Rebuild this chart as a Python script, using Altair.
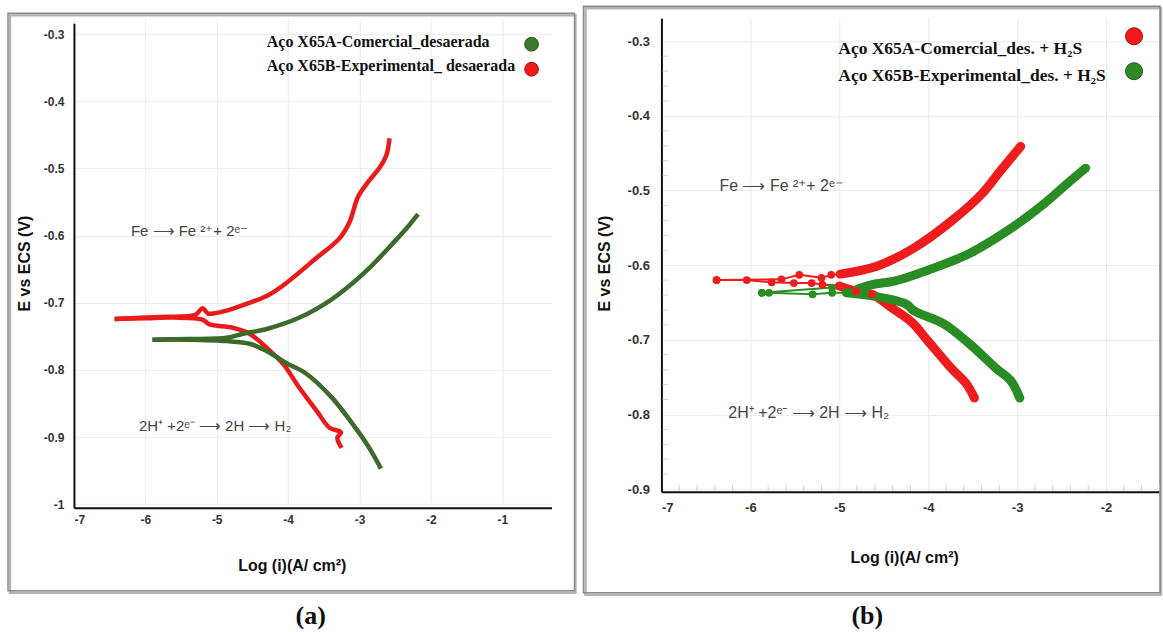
import altair as alt
import pandas as pd

# ---------------- Panel (a): desaerada ----------------
a_green_name = "Aço  X65A-Comercial_desaerada"
a_red_name = "Aço X65B-Experimental_ desaerada"

a_red_cat_logi = [-6.43, -6.0, -5.6, -5.20, -5.10, -4.78, -4.54, -4.30, -4.07, -3.84, -3.60, -3.42, -3.26, -3.31, -3.25]
a_red_cat_E = [-0.724, -0.723, -0.722, -0.725, -0.732, -0.737, -0.746, -0.767, -0.791, -0.827, -0.861, -0.886, -0.893, -0.901, -0.916]
a_red_an_logi = [-6.43, -5.8, -5.3, -5.2, -5.12, -5.0, -4.78, -4.54, -4.30, -4.08, -3.60, -3.28, -3.14, -3.02, -2.88, -2.72, -2.62, -2.58]
a_red_an_E = [-0.724, -0.721, -0.718, -0.708, -0.716, -0.715, -0.709, -0.700, -0.690, -0.675, -0.633, -0.604, -0.580, -0.542, -0.520, -0.499, -0.479, -0.455]

a_green_cat_logi = [-5.90, -5.4, -4.86, -4.54, -4.30, -4.02, -3.74, -3.38, -3.10, -2.90, -2.76, -2.70]
a_green_cat_E = [-0.755, -0.755, -0.757, -0.761, -0.772, -0.790, -0.806, -0.842, -0.880, -0.910, -0.935, -0.947]
a_green_an_logi = [-5.90, -5.4, -4.86, -4.63, -4.30, -3.84, -3.42, -3.11, -2.86, -2.59, -2.34, -2.18]
a_green_an_E = [-0.755, -0.754, -0.752, -0.746, -0.739, -0.722, -0.697, -0.672, -0.648, -0.618, -0.589, -0.568]

a_xticks = [-7, -6, -5, -4, -3, -2, -1]
a_yticks = [-0.3, -0.4, -0.5, -0.6, -0.7, -0.8, -0.9, -1.0]

# ---------------- Panel (b): desaerada + H2S ----------------
b_red_name = "Aço  X65A-Comercial_des. + H₂S"
b_green_name = "Aço X65B-Experimental_des. + H₂S"

b_red_cat_logi = [-6.38, -6.04, -5.76, -5.51, -5.31, -5.19, -5.0, -4.81, -4.63, -4.40, -4.18, -4.00, -3.74, -3.57, -3.48]
b_red_cat_E = [-0.620, -0.620, -0.623, -0.624, -0.624, -0.626, -0.628, -0.635, -0.639, -0.658, -0.677, -0.702, -0.738, -0.759, -0.778]
b_red_an_logi = [-6.38, -5.65, -5.45, -5.20, -5.09, -4.99, -4.57, -4.16, -3.74, -3.40, -3.19, -2.96]
b_red_an_E = [-0.620, -0.619, -0.613, -0.617, -0.613, -0.612, -0.601, -0.577, -0.541, -0.505, -0.474, -0.441]

b_green_cat_logi = [-5.87, -5.79, -5.30, -5.08, -4.92, -4.63, -4.25, -4.16, -3.82, -3.53, -3.24, -3.07, -2.97]
b_green_cat_E = [-0.637, -0.637, -0.639, -0.637, -0.637, -0.641, -0.652, -0.661, -0.679, -0.706, -0.738, -0.755, -0.778]
b_green_an_logi = [-5.87, -5.08, -4.79, -4.63, -4.37, -3.94, -3.53, -3.11, -2.70, -2.44, -2.23]
b_green_an_E = [-0.637, -0.630, -0.632, -0.626, -0.621, -0.604, -0.584, -0.554, -0.518, -0.491, -0.470]

b_xticks = [-7, -6, -5, -4, -3, -2]
b_yticks = [-0.3, -0.4, -0.5, -0.6, -0.7, -0.8, -0.9]
# minor tick positions of panel (b): four between each pair of labelled ticks
b_xminor = [round(-7 + 0.2 * k, 2) for k in range(1, 29) if k % 5]
b_yminor = [round(-0.3 - 0.02 * k, 3) for k in range(1, 30) if k % 5]

x_title = "Log (i)(A/ cm²)"
y_title = "E vs ECS (V)"
anod_text = "Fe  ⟶ Fe ²⁺+ 2ᵉ⁻"
cat_text = "2H⁺ +2ᵉ⁻ ⟶ 2H ⟶ H₂"

LAB_FONT = "Liberation Sans Narrow, Arial Narrow, Liberation Sans, sans-serif"
SANS = "Liberation Sans, Arial, sans-serif"
SERIF = "Liberation Serif, Times New Roman, serif"


def frame(specs):
    rows = []
    for name, branch, xs, ys in specs:
        for i, (x, y) in enumerate(zip(xs, ys)):
            rows.append(dict(serie=name, branch=branch, ordem=i, logi=x, E=y))
    return pd.DataFrame(rows)


def axis(values, title, tx, ty, pad, size, angle=None):
    kw = dict(values=values, labelExpr="'-' + abs(datum.value)", title=title,
              grid=True, gridColor="#ececec", gridWidth=1,
              domainColor="#111111", domainWidth=2, ticks=False, tickSize=0,
              labelFont=LAB_FONT, labelFontWeight="bold", labelColor="#333333",
              labelFontSize=size, labelPadding=pad,
              titleFont=SANS, titleFontWeight="bold", titleFontSize=16, titleColor="#111111",
              titleX=tx, titleY=ty, titleAlign="center", titleBaseline="middle")
    if angle is not None:
        kw["titleAngle"] = angle
    return alt.Axis(**kw)


def one(text, x, y, **style):
    return alt.Chart(pd.DataFrame({"t": [text]})).mark_text(**style).encode(
        text="t:N", x=alt.value(x), y=alt.value(y))


def dot(x, y, fill, edge, size):
    return alt.Chart(pd.DataFrame({"k": [0]})).mark_point(
        filled=True, shape="circle", size=size, color=fill, stroke=edge, strokeWidth=1, opacity=1
    ).encode(x=alt.value(x), y=alt.value(y))


def border(x1, x2, y1, y2):
    shadow = alt.Chart(pd.DataFrame({"k": [0]})).mark_rect(
        fillOpacity=0, stroke="#b5b5b5", strokeWidth=2.5
    ).encode(x=alt.value(x1 + 2), x2=alt.value(x2 + 1), y=alt.value(y1 + 2), y2=alt.value(y2 + 2))
    box = alt.Chart(pd.DataFrame({"k": [0]})).mark_rect(
        fillOpacity=0, stroke="#8a8a8a", strokeWidth=1.5
    ).encode(x=alt.value(x1), x2=alt.value(x2), y=alt.value(y1), y2=alt.value(y2))
    return shadow + box


# ---------- panel (a) ----------
A_RED = "#ea1a1a"
A_GREEN = "#3b6a2b"
df_a = frame([
    (a_red_name, "cat", a_red_cat_logi, a_red_cat_E),
    (a_red_name, "an", a_red_an_logi, a_red_an_E),
    (a_green_name, "cat", a_green_cat_logi, a_green_cat_E),
    (a_green_name, "an", a_green_an_logi, a_green_an_E),
])

xa = alt.X("logi:Q", scale=alt.Scale(domain=[-7, -0.31], nice=False, zero=False),
           axis=axis(a_xticks, x_title, 218, 58, 7, 12))
ya = alt.Y("E:Q", scale=alt.Scale(domain=[-1.0054, -0.2836], range=[490, 5], nice=False, zero=False),
           axis=axis(a_yticks, y_title, -49, 245, 10, 12, 270))
col_a = alt.Color("serie:N", scale=alt.Scale(domain=[a_green_name, a_red_name], range=[A_GREEN, A_RED]), legend=None)

lines_a = alt.Chart(df_a).mark_line(strokeWidth=4.5, strokeJoin="round", interpolate="catmull-rom").encode(
    x=xa, y=ya, color=col_a, detail="branch:N", order="ordem:Q")

panel_a = alt.layer(
    border(-66, 501, -5, 573),
    lines_a,
    one(a_green_name, 193, 24, font=SERIF, fontWeight="bold", fontSize=16, align="left", baseline="middle", color="#111"),
    one(a_red_name, 193, 48, font=SERIF, fontWeight="bold", fontSize=16, align="left", baseline="middle", color="#111"),
    dot(458, 26, "#3d7a2c", "#2a4f1e", 190),
    dot(458, 51, "#ee1b1b", "#a01010", 190),
    one(anod_text, 57, 213, font=SANS, fontSize=15, align="left", baseline="middle", color="#444"),
    one(cat_text, 65, 408, font=SANS, fontSize=15, align="left", baseline="middle", color="#444"),
    one("(a)", 237, 598, font=SERIF, fontWeight="bold", fontSize=26, align="center", baseline="middle", color="#111"),
).properties(width=478, height=490)

# ---------- panel (b) ----------
B_RED = "#ee1c1c"
B_GREEN = "#2a8c24"
df_b = frame([
    (b_red_name, "cat", b_red_cat_logi, b_red_cat_E),
    (b_red_name, "an", b_red_an_logi, b_red_an_E),
    (b_green_name, "cat", b_green_cat_logi, b_green_cat_E),
    (b_green_name, "an", b_green_an_logi, b_green_an_E),
])

xb = alt.X("logi:Q", scale=alt.Scale(domain=[-7, -1.393], nice=False, zero=False),
           axis=axis(b_xticks, x_title, 243, 66, 10, 13))
yb = alt.Y("E:Q", scale=alt.Scale(domain=[-0.9037, -0.2692], nice=False, zero=False),
           axis=axis(b_yticks, y_title, -57, 245, 12, 13, 270))
col_b = alt.Color("serie:N", scale=alt.Scale(domain=[b_red_name, b_green_name], range=[B_RED, B_GREEN]), legend=None)

base_b = alt.Chart(df_b).encode(x=xb, y=yb, color=col_b, detail="branch:N", order="ordem:Q")
thin_b = base_b.mark_line(strokeWidth=2)
thick_b = base_b.transform_filter("datum.logi > -5.02").mark_line(
    strokeWidth=9, strokeJoin="round", strokeCap="round", interpolate="catmull-rom")
pts_b = base_b.mark_circle(size=60, opacity=1)

xminor_b = alt.Chart(pd.DataFrame({"logi": b_xminor})).mark_tick(
    orient="vertical", size=6, thickness=1, color="#c4c4c4").encode(x=xb, y=alt.value(470))
yminor_b = alt.Chart(pd.DataFrame({"E": b_yminor})).mark_tick(
    orient="horizontal", size=6, thickness=1, color="#c4c4c4").encode(y=yb, x=alt.value(4))

panel_b = alt.layer(
    border(-78, 499, -12, 575),
    xminor_b, yminor_b,
    thin_b, thick_b, pts_b,
    one(b_red_name, 177, 31, font=SERIF, fontWeight="bold", fontSize=17.5, align="left", baseline="middle", color="#111"),
    one(b_green_name, 177, 58, font=SERIF, fontWeight="bold", fontSize=17.5, align="left", baseline="middle", color="#111"),
    dot(473, 18, "#f01a1a", "#a01010", 290),
    dot(473, 53, "#2f8a26", "#1e5a18", 290),
    one(anod_text, 58, 168, font=SANS, fontSize=16, align="left", baseline="middle", color="#444"),
    one(cat_text, 67, 395, font=SANS, fontSize=16, align="left", baseline="middle", color="#444"),
    one("(b)", 206, 598, font=SERIF, fontWeight="bold", fontSize=26, align="center", baseline="middle", color="#111"),
).properties(width=499, height=474)

chart = alt.hconcat(panel_a, panel_b, spacing=110, bounds="flush").resolve_scale(
    color="independent"
).properties(
    padding={"left": 7, "top": 5, "right": 0, "bottom": 0}, background="white"
).configure_view(stroke=None)

chart.save("out.html", embed_options={"renderer": "svg", "actions": False})
